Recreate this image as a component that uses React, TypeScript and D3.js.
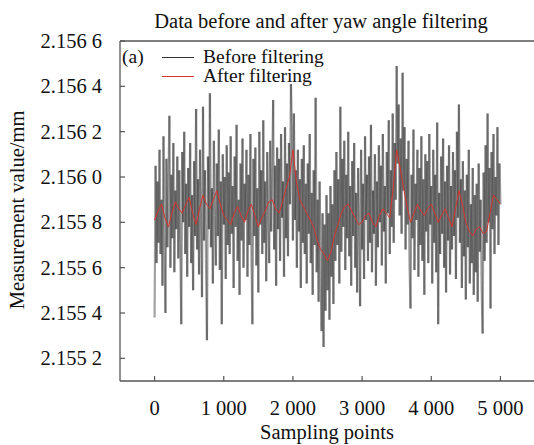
import * as d3 from 'd3';

const rawValues: number[] = [
  2.15538,2.15605,2.15562,2.15598,2.15571,2.15612,2.15566,2.15590,2.15552,2.15618,2.15575,2.15540,2.15608,2.15569,2.15596,2.15627,2.15560,2.15601,2.15573,2.15615,2.15558,2.15594,2.15577,2.15609,2.15564,
  2.15603,2.15571,2.15535,2.15611,2.15580,2.15620,2.15566,2.15597,2.15556,2.15604,2.15578,2.15615,2.15562,2.15592,2.15550,2.15607,2.15574,2.15630,2.15568,2.15599,2.15557,2.15612,2.15581,2.15547,2.15631,
  2.15572,2.15603,2.15564,2.15528,2.15609,2.15577,2.15637,2.15569,2.15595,2.15553,2.15616,2.15583,2.15561,2.15606,2.15574,2.15621,2.15559,2.15598,2.15535,2.15610,2.15579,2.15600,2.15555,2.15614,2.15570,
  2.15602,2.15566,2.15618,2.15575,2.15596,2.15551,2.15609,2.15578,2.15623,2.15563,2.15590,2.15548,2.15606,2.15572,2.15617,2.15560,2.15597,2.15581,2.15612,2.15556,2.15601,2.15570,2.15619,2.15565,2.15535,
  2.15608,2.15574,2.15613,2.15561,2.15595,2.15549,2.15620,2.15579,2.15603,2.15566,2.15625,2.15571,2.15598,2.15554,2.15611,2.15583,2.15562,2.15616,2.15576,2.15600,2.15634,2.15568,2.15605,2.15552,2.15613,
  2.15577,2.15608,2.15563,2.15619,2.15582,2.15598,2.15556,2.15622,2.15573,2.15606,2.15565,2.15615,2.15588,2.15641,2.15620,2.15572,2.15628,2.15581,2.15603,2.15560,2.15612,2.15576,2.15599,2.15551,2.15608,
  2.15571,2.15614,2.15566,2.15597,2.15553,2.15606,2.15575,2.15619,2.15562,2.15593,2.15548,2.15603,2.15570,2.15635,2.15558,2.15590,2.15545,2.15598,2.15561,2.15532,2.15584,2.15525,2.15579,2.15541,2.15592,
  2.15550,2.15584,2.15537,2.15596,2.15556,2.15588,2.15544,2.15603,2.15563,2.15611,2.15570,2.15599,2.15553,2.15631,2.15567,2.15608,2.15578,2.15616,2.15559,2.15601,2.15573,2.15620,2.15565,2.15596,2.15552,
  2.15607,2.15574,2.15615,2.15560,2.15593,2.15549,2.15604,2.15577,2.15543,2.15612,2.15568,2.15597,2.15555,2.15618,2.15581,2.15601,2.15563,2.15609,2.15571,2.15623,2.15558,2.15594,2.15575,2.15610,2.15552,
  2.15598,2.15569,2.15614,2.15580,2.15605,2.15561,2.15619,2.15576,2.15596,2.15553,2.15611,2.15584,2.15625,2.15566,2.15603,2.15578,2.15628,2.15571,2.15615,2.15590,2.15649,2.15606,2.15632,2.15583,2.15617,
  2.15575,2.15646,2.15594,2.15622,2.15568,2.15608,2.15579,2.15616,2.15562,2.15542,2.15601,2.15573,2.15621,2.15559,2.15597,2.15581,2.15612,2.15556,2.15604,2.15570,2.15618,2.15563,2.15599,2.15548,2.15610,
  2.15576,2.15607,2.15562,2.15619,2.15579,2.15596,2.15553,2.15612,2.15571,2.15601,2.15558,2.15624,2.15535,2.15593,2.15566,2.15609,2.15575,2.15617,2.15560,2.15598,2.15549,2.15605,2.15572,2.15614,2.15557,
  2.15596,2.15568,2.15611,2.15574,2.15603,2.15555,2.15620,2.15582,2.15632,2.15571,2.15599,2.15551,2.15607,2.15565,2.15594,2.15546,2.15601,2.15569,2.15612,2.15553,2.15588,2.15562,2.15604,2.15548,2.15592,
  2.15558,2.15597,2.15545,2.15606,2.15567,2.15590,2.15552,2.15531,2.15602,2.15563,2.15614,2.15571,2.15628,2.15580,2.15604,2.15542,2.15611,2.15577,2.15619,2.15566,2.15600,2.15583,2.15622,2.15570,2.15606,2.15588,
];

const filteredValues: number[] = [
  2.15581,2.15585,2.15588,2.15582,2.15578,2.15584,2.15589,2.15586,2.15584,2.15588,
  2.15591,2.15584,2.15579,2.15586,2.15592,2.15588,2.15586,2.15590,2.15594,2.15588,
  2.15583,2.15581,2.15579,2.15584,2.15587,2.15583,2.15580,2.15585,2.15588,2.15583,
  2.15578,2.15582,2.15585,2.15589,2.15590,2.15586,2.15584,2.15589,2.15595,2.15600,
  2.15612,2.15598,2.15590,2.15587,2.15584,2.15581,2.15578,2.15572,2.15568,2.15566,
  2.15563,2.15567,2.15574,2.15579,2.15584,2.15587,2.15588,2.15585,2.15582,2.15579,
  2.15580,2.15583,2.15584,2.15580,2.15578,2.15583,2.15586,2.15584,2.15582,2.15595,
  2.15612,2.15604,2.15595,2.15587,2.15580,2.15584,2.15588,2.15585,2.15583,2.15586,
  2.15588,2.15584,2.15580,2.15583,2.15586,2.15582,2.15578,2.15586,2.15594,2.15588,
  2.15580,2.15576,2.15574,2.15577,2.15578,2.15575,2.15576,2.15584,2.15592,2.15590,
  2.15588,
];

const xTicks = [0, 1000, 2000, 3000, 4000, 5000];
const yTicks = [2.1552, 2.1554, 2.1556, 2.1558, 2.156, 2.1562, 2.1564, 2.1566];
const xMaxSample = 5000;

const titleText = 'Data before and after yaw angle filtering';
const xLabelText = 'Sampling points';
const yLabelText = 'Measurement value/mm';
const legendLabels = ['Before filtering', 'After filtering'];
const panelTag = '(a)';

const W = 534;
const H = 445;
const left = 120;
const right = 535;
const top = 41;
const bottom = 381;
const FONT = "'Liberation Serif', 'Times New Roman', 'DejaVu Serif', serif";

const fmtX = (v: number) => (v === 0 ? '0' : `${Math.floor(v / 1000)} 000`);
const fmtY = (v: number) => {
  const s = v.toFixed(4);
  return `${s.slice(0, 5)} ${s.slice(5)}`;
};

const txt = { fontFamily: FONT, fill: '#111' } as const;

export default function App() {
  const x = d3.scaleLinear().domain([-500, 5500]).range([left, right]);
  const y = d3.scaleLinear().domain([2.1551, 2.1566]).range([bottom, top]);

  const rawPts = rawValues.map((v, i) => [(i * xMaxSample) / (rawValues.length - 1), v] as [number, number]);
  const filtPts = filteredValues.map((v, i) => [(i * xMaxSample) / (filteredValues.length - 1), v] as [number, number]);
  const rawSegs = d3.pairs(rawPts);

  const line = d3
    .line<[number, number]>()
    .x((d) => x(d[0]))
    .y((d) => y(d[1]));

  const axisColor = '#555';

  return (
    <svg
      width={W}
      height={H}
      style={{ position: 'absolute', left: 0, top: 0, background: '#fff', fontFamily: FONT }}
    >
      <rect x={0} y={0} width={W} height={H} fill="#fff" />
      <text x={321} y={28} textAnchor="middle" fontSize={20.5} style={txt}>
        {titleText}
      </text>

      <g stroke="#262626" strokeWidth={2.2} strokeOpacity={0.43} strokeLinecap="butt" fill="none">
        {rawSegs.map(([a, b], i) => (
          <path key={i} d={line([a, b]) || ''} />
        ))}
      </g>
      <path d={line(filtPts) || ''} fill="none" stroke="#d8342e" strokeWidth={1} strokeLinejoin="round" />

      {/* frame */}
      <line x1={left} x2={left} y1={top} y2={bottom} stroke={axisColor} strokeWidth={1.3} />
      <line x1={left} x2={W} y1={bottom} y2={bottom} stroke={axisColor} strokeWidth={1.3} />
      <line x1={left} x2={W} y1={top} y2={top} stroke={axisColor} strokeWidth={1.3} />

      {yTicks.map((t) => (
        <g key={`y${t}`}>
          <line x1={left} x2={left + 5} y1={y(t)} y2={y(t)} stroke={axisColor} strokeWidth={1.2} />
          <text x={102} y={y(t) + 7} textAnchor="end" fontSize={20.5} style={txt}>
            {fmtY(t)}
          </text>
        </g>
      ))}
      {xTicks.map((t) => (
        <g key={`x${t}`}>
          <line x1={x(t)} x2={x(t)} y1={bottom} y2={bottom - 5} stroke={axisColor} strokeWidth={1.2} />
          <text x={x(t)} y={415} textAnchor="middle" fontSize={20.5} style={txt}>
            {fmtX(t)}
          </text>
        </g>
      ))}

      <text x={327} y={439} textAnchor="middle" fontSize={20.5} style={txt}>
        {xLabelText}
      </text>
      <text
        transform={`translate(24,${210}) rotate(-90)`}
        textAnchor="middle"
        fontSize={20.5}
        style={txt}
      >
        {yLabelText}
      </text>

      {/* legend */}
      <text x={122} y={63} fontSize={19.5} style={txt}>
        {panelTag}
      </text>
      <line x1={162} x2={194} y1={57.5} y2={57.5} stroke="#333" strokeWidth={1} />
      <text x={203} y={62.5} fontSize={19.5} style={txt}>
        {legendLabels[0]}
      </text>
      <line x1={162} x2={194} y1={76.5} y2={76.5} stroke="#d8342e" strokeWidth={1} />
      <text x={203} y={82} fontSize={19.5} style={txt}>
        {legendLabels[1]}
      </text>
    </svg>
  );
}
